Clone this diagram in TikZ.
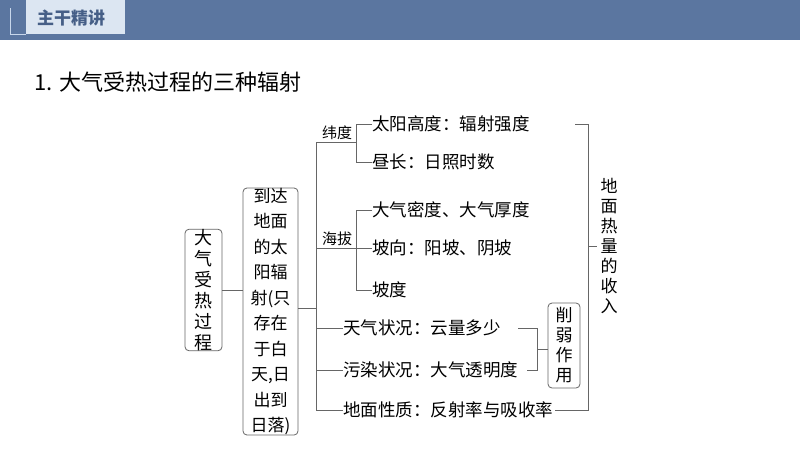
\documentclass[tikz,border=0pt]{standalone}
\usepackage{fontspec}
\setmainfont{Noto Sans CJK SC}
\begin{document}
\begin{tikzpicture}[x=1pt,y=-1pt,
  ln/.style={draw=black!60,line width=0.8pt},
  bx/.style={draw=black!60,line width=0.8pt,rounded corners=4pt,align=center,inner sep=0pt},
  tx/.style={anchor=west,inner sep=0pt,font=\fontsize{17.5}{17.5}\selectfont},
  lb/.style={inner sep=0pt,font=\fontsize{15}{15}\selectfont}]
\useasboundingbox (0,0) rectangle (800,450);
\fill[white] (0,0) rectangle (800,450);
\fill[color={rgb,255:red,91;green,118;blue,160}] (0,0) rectangle (800,40);
\fill[color={rgb,255:red,220;green,230;blue,242}] (26,0) rectangle (125,34);
\draw[color={rgb,255:red,200;green,215;blue,235},line width=0.8pt] (10,8) -- (10,34) -- (26,34);
\node[inner sep=0pt,font=\bfseries\fontsize{17}{17}\selectfont,text={rgb,255:red,70;green,95;blue,135}] (hd) at (71,18) {主干精讲};
\node[anchor=west,inner sep=0pt,font=\fontsize{22}{22}\selectfont] (tt) at (34,82) {1. 大气受热过程的三种辐射};
% boxes
\node[bx,minimum width=37pt,minimum height=100pt,font=\fontsize{18}{21}\selectfont] (b1) at (203.5,290) {大\\气\\受\\热\\过\\程};
\node[bx,minimum width=55pt,minimum height=237pt,font=\fontsize{17}{25.5}\selectfont] (b2) at (270.5,311.5) {到达\\地面\\的太\\阳辐\\射(只\\存在\\于白\\天,日\\出到\\日落)};
\node[bx,minimum width=32pt,minimum height=85pt,font=\fontsize{17}{20}\selectfont] (b3) at (564,345.5) {削\\弱\\作\\用};
\draw[ln] (b1.east |- 0,290) -- (b2.west |- 0,290);
\coordinate (s0) at (316,308);
\draw[ln] (b2.east |- s0) -- (s0);
% spine
\coordinate (sT) at (316,142); \coordinate (sB) at (316,410);
\draw[ln] (sT) -- (sB);
\coordinate (w1) at (356,142); \coordinate (h1) at (356,248);
\draw[ln] (sT) -- (w1);
\draw[ln] (316,248) -- (h1);
\node[lb] (wd) at (337,133) {纬度};
\node[lb] (hb) at (337,239) {海拔};
% latitude sub
\node[tx] (a1) at (372,124) {太阳高度：辐射强度};
\node[tx] (a2) at (372,162) {昼长：日照时数};
\draw[ln] (a1.west) -- ++(-16,0) -- (356,162) -- (a2.west);
% altitude sub
\node[tx] (c1) at (372,210) {大气密度、大气厚度};
\node[tx] (c2) at (372,248) {坡向：阳坡、阴坡};
\node[tx] (c3) at (372,290) {坡度};
\draw[ln] (c1.west) -- ++(-16,0) -- (356,290) -- (c3.west);
\draw[ln] (h1) -- (c2.west);
% others
\node[tx] (d1) at (343,328) {天气状况：云量多少};
\node[tx] (d2) at (343,370) {污染状况：大气透明度};
\node[tx] (d3) at (343,410) {地面性质：反射率与吸收率};
\draw[ln] (316,328) -- (d1.west);
\draw[ln] (316,370) -- (d2.west);
\draw[ln] (sB) -- (d3.west);
% weaken bracket
\coordinate (k1) at (537,328); \coordinate (k2) at (537,370);
\draw[ln] (518,328) -- (k1) -- (k2) -- (527,370);
\draw[ln] (537,349) -- (b3.west |- 0,349);
% right bracket
\node[inner sep=0pt,font=\fontsize{17}{20}\selectfont,align=center] (rt) at (609,246) {地\\面\\热\\量\\的\\收\\入};
\coordinate (r1) at (588,124); \coordinate (r2) at (588,410);
\draw[ln] (575,124) -- (r1) -- (r2) -- ([xshift=2pt]d3.east);
\draw[ln] (588,246) -- (597,246);
\end{tikzpicture}
\end{document}
